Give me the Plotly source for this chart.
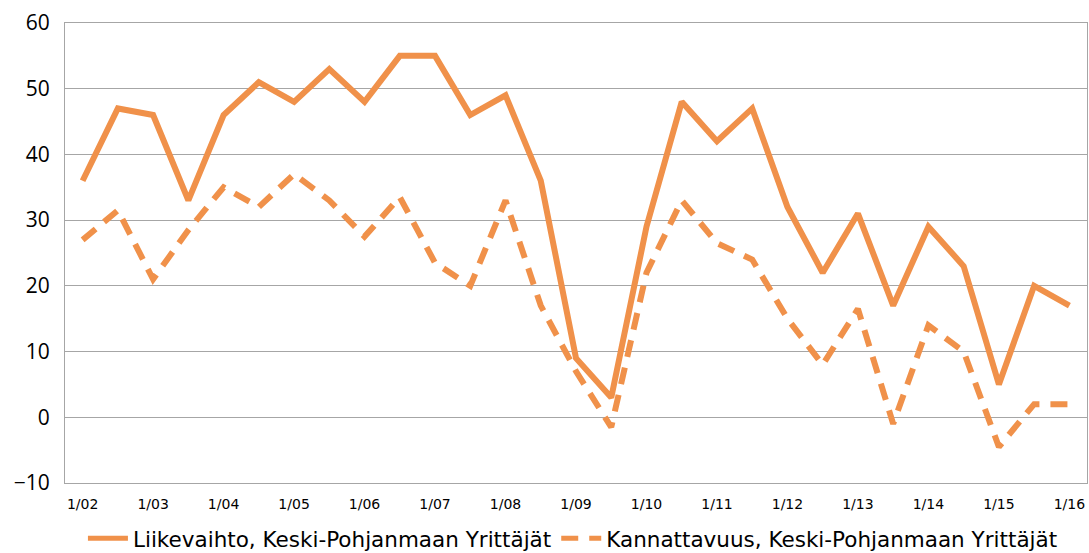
import plotly.graph_objects as go

periods = ["1/02", "7/02", "1/03", "7/03", "1/04", "7/04", "1/05", "7/05", "1/06", "7/06",
           "1/07", "7/07", "1/08", "7/08", "1/09", "7/09", "1/10", "7/10", "1/11", "7/11",
           "1/12", "7/12", "1/13", "7/13", "1/14", "7/14", "1/15", "7/15", "1/16"]
liikevaihto = [36, 47, 46, 33, 46, 51, 48, 53, 48, 55, 55, 46, 49, 36, 9, 3, 29, 48, 42, 47,
               32, 22, 31, 17, 29, 23, 5, 20, 17]
kannattavuus = [27, 31.5, 21, 28.5, 35, 32, 37, 33, 27.5, 33.5, 23.5, 20, 33, 17, 7, -1.5, 22, 33,
                26.5, 24, 15, 8, 16.5, -1, 14, 10, -4.5, 2, 2]
tick_labels = ["1/02", "1/03", "1/04", "1/05", "1/06", "1/07", "1/08", "1/09", "1/10", "1/11",
               "1/12", "1/13", "1/14", "1/15", "1/16"]
y_ticks = [-10, 0, 10, 20, 30, 40, 50, 60]

name1 = "Liikevaihto, Keski-Pohjanmaan Yrittäjät"
name2 = "Kannattavuus, Keski-Pohjanmaan Yrittäjät"
color = "#F0914A"

x = list(range(len(periods)))
tick_pos = [periods.index(t) for t in tick_labels]

fig = go.Figure()
fig.add_trace(go.Scatter(x=x, y=liikevaihto, mode="lines", name=name1,
                         line=dict(color=color, width=6)))
fig.add_trace(go.Scatter(x=x, y=kannattavuus, mode="lines", name=name2,
                         line=dict(color=color, width=6, dash="17px,11px")))

fig.update_layout(
    width=1089, height=553,
    margin=dict(l=65, r=2, t=23, b=70, autoexpand=False),
    paper_bgcolor="white", plot_bgcolor="white",
    showlegend=True,
    legend=dict(orientation="h", x=0.497, xanchor="center", y=-0.12, yanchor="middle",
                font=dict(family="DejaVu Sans", size=21.5, color="#000000"),
                itemwidth=40, tracegroupgap=0, itemsizing="constant"),
    xaxis=dict(range=[-0.5, len(periods) - 0.5], tickmode="array", tickvals=tick_pos,
               ticktext=tick_labels, showgrid=False, zeroline=False, automargin=False,
               showline=True, linecolor="#A6A6A6", linewidth=1, mirror=True,
               ticks="outside", ticklen=8, tickcolor="rgba(0,0,0,0)",
               tickfont=dict(family="DejaVu Sans", size=14, color="#000000")),
    yaxis=dict(range=[-10, 60], tickmode="array", tickvals=y_ticks, automargin=False,
               showgrid=True, gridcolor="#A6A6A6", gridwidth=1, zeroline=False,
               showline=True, linecolor="#A6A6A6", linewidth=1, mirror=True,
               ticks="outside", ticklen=10, tickcolor="rgba(0,0,0,0)",
               tickfont=dict(family="Open Sans", size=21, color="#000000")),
)

fig.write_html("out.html", config={"displayModeBar": False},
               post_script="document.body.style.margin='0';")
